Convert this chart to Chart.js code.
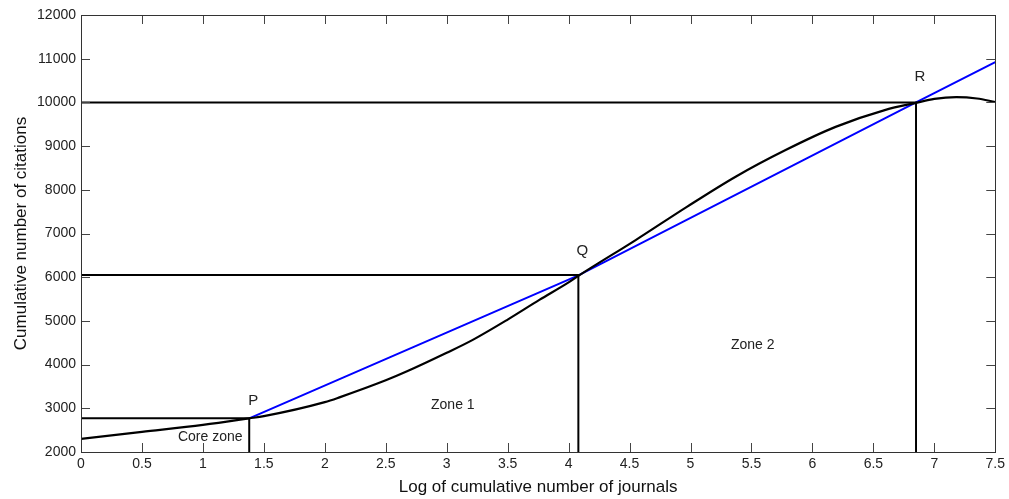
<!DOCTYPE html>
<html>
<head>
<meta charset="utf-8">
<script src="https://cdn.jsdelivr.net/npm/chart.js@4.4.1/dist/chart.umd.min.js"></script>
<style>
    html, body { margin: 0; padding: 0; background: #fff; }
    #wrap { width: 1009px; height: 499px; }
</style>
</head>
<body>
<div id="wrap"><canvas id="bradfordChart"></canvas></div>
<script>
// cumulative citations curve (black)
const curveX = [0, 0.5, 1, 1.38, 1.5, 2, 2.12, 2.5, 2.67, 3, 3.21, 3.5, 3.76, 4, 4.08, 4.55, 4.97, 5.37, 5.78, 6.19, 6.6, 6.85, 7.0, 7.18, 7.35, 7.5];
const curveY = [2300, 2460, 2620, 2770, 2820, 3140, 3250, 3640, 3840, 4270, 4560, 5030, 5480, 5880, 6030, 6850, 7610, 8300, 8910, 9440, 9830, 9990, 10080, 10120, 10090, 10010];

// Bradford fit line (blue)
const fitX = [1.38, 4.08, 6.85, 7.5];
const fitY = [2770, 6040, 10000, 10920];

// zone boundary points
const pointNames = ['P', 'Q', 'R'];
const pointX = [1.38, 4.08, 6.85];
const pointY = [2770, 6050, 10000];

// zone labels
const zoneNames = ['Core zone', 'Zone 1', 'Zone 2'];
const zoneX = [1.06, 3.05, 5.51];
const zoneY = [2340, 3080, 4450];

const xTicks = [0, 0.5, 1, 1.5, 2, 2.5, 3, 3.5, 4, 4.5, 5, 5.5, 6, 6.5, 7, 7.5];
const yTicks = [2000, 3000, 4000, 5000, 6000, 7000, 8000, 9000, 10000, 11000, 12000];

const FONT = '"Liberation Sans", Arial, sans-serif';

const datasets = [];
pointX.forEach((px, i) => {
    datasets.push({
        data: [{ x: 0, y: pointY[i] }, { x: px, y: pointY[i] }, { x: px, y: 2000 }],
        borderColor: '#000', borderWidth: 2, showLine: true, pointRadius: 0, fill: false
    });
});
datasets.push({
    data: curveX.map((x, i) => ({ x: x, y: curveY[i] })),
    borderColor: '#000', borderWidth: 2.2, showLine: true, pointRadius: 0,
    tension: 0.4, cubicInterpolationMode: 'monotone', fill: false
});
datasets.push({
    data: fitX.map((x, i) => ({ x: x, y: fitY[i] })),
    borderColor: '#0000ff', borderWidth: 2, showLine: true, pointRadius: 0, fill: false
});

// matlab style box with inward ticks
const boxPlugin = {
    id: 'box',
    afterDatasetsDraw(chart) {
        const ctx = chart.ctx;
        const a = chart.chartArea;
        const xs = chart.scales.x, ys = chart.scales.y;
        ctx.save();
        ctx.strokeStyle = '#444';
        ctx.lineWidth = 1;
        ctx.beginPath();
        xTicks.forEach(t => {
            const p = Math.round(xs.getPixelForValue(t)) + 0.5;
            ctx.moveTo(p, a.bottom); ctx.lineTo(p, a.bottom - 9);
            ctx.moveTo(p, a.top); ctx.lineTo(p, a.top + 9);
        });
        yTicks.forEach(t => {
            const p = Math.round(ys.getPixelForValue(t)) + 0.5;
            ctx.moveTo(a.left, p); ctx.lineTo(a.left + 9, p);
            ctx.moveTo(a.right, p); ctx.lineTo(a.right - 9, p);
        });
        ctx.stroke();
        ctx.strokeStyle = '#333';
        ctx.strokeRect(Math.round(a.left) + 0.5, Math.round(a.top) + 0.5,
            Math.round(a.right - a.left), Math.round(a.bottom - a.top));

        ctx.fillStyle = '#222';
        ctx.textAlign = 'center';
        ctx.textBaseline = 'middle';
        ctx.font = '15px ' + FONT;
        const offs = [[4, -17], [4, -24], [4, -26]];
        pointNames.forEach((n, i) => {
            ctx.fillText(n, xs.getPixelForValue(pointX[i]) + offs[i][0], ys.getPixelForValue(pointY[i]) + offs[i][1]);
        });
        ctx.font = '14px ' + FONT;
        zoneNames.forEach((n, i) => {
            ctx.fillText(n, xs.getPixelForValue(zoneX[i]), ys.getPixelForValue(zoneY[i]));
        });
        ctx.restore();
    }
};

new Chart(document.getElementById('bradfordChart'), {
    type: 'scatter',
    data: { datasets: datasets },
    plugins: [boxPlugin],
    options: {
        responsive: true,
        maintainAspectRatio: false,
        animation: false,
        layout: { padding: { top: 15, right: 12, left: 11, bottom: 0 } },
        plugins: { legend: { display: false }, tooltip: { enabled: false } },
        scales: {
            x: {
                type: 'linear', min: 0, max: 7.5,
                afterBuildTicks: s => { s.ticks = xTicks.map(v => ({ value: v })); },
                afterFit: s => { s.height = 47; },
                grid: { display: false, drawTicks: false },
                border: { display: false },
                ticks: { color: '#222', font: { family: FONT, size: 14 }, padding: 4, maxRotation: 0,
                    callback: v => String(v) },
                title: { display: true, text: 'Log of cumulative number of journals', color: '#111',
                    font: { family: FONT, size: 17 }, padding: { top: 0, bottom: 1 } }
            },
            y: {
                type: 'linear', min: 2000, max: 12000,
                afterBuildTicks: s => { s.ticks = yTicks.map(v => ({ value: v })); },
                afterFit: s => { s.width = 70; },
                grid: { display: false, drawTicks: false },
                border: { display: false },
                ticks: { color: '#222', font: { family: FONT, size: 14 }, padding: 5,
                    callback: v => String(v) },
                title: { display: true, text: 'Cumulative number of citations', color: '#111',
                    font: { family: FONT, size: 17 }, padding: { top: 0, bottom: 0 } }
            }
        }
    }
});
</script>
</body>
</html>
